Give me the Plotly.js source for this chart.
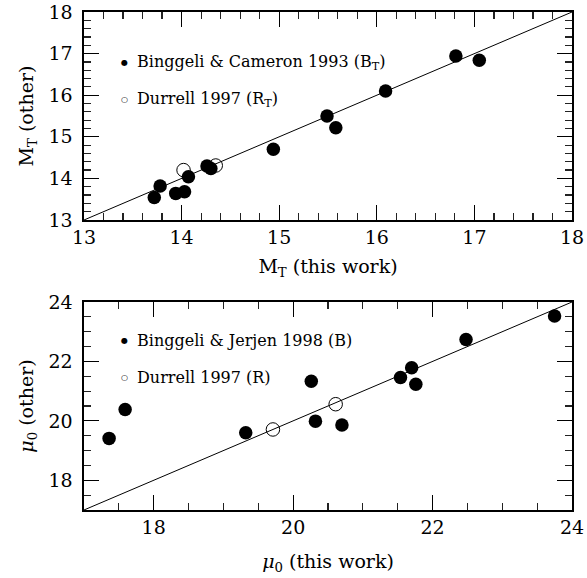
<!DOCTYPE html>
<html>
<head>
<meta charset="utf-8">
<script src="https://cdn.plot.ly/plotly-3.0.1.min.js"></script>
<style>html,body{margin:0;padding:0;background:#fff;}#chart{width:587px;height:578px;}</style>
</head>
<body>
<div id="chart"></div>
<script>
// Top panel: M_T comparison
var topFilledX = [13.72, 13.78, 13.94, 14.03, 14.07, 14.26, 14.30, 14.94, 15.49, 15.58, 16.09, 16.81, 17.05];
var topFilledY = [13.54, 13.82, 13.64, 13.68, 14.04, 14.30, 14.24, 14.70, 15.50, 15.22, 16.10, 16.94, 16.84];
var topOpenX = [14.02, 14.35];
var topOpenY = [14.20, 14.31];
var topLine = [13, 18];

// Bottom panel: mu_0 comparison
var botFilledX = [17.36, 17.59, 19.32, 20.26, 20.32, 20.70, 21.54, 21.70, 21.76, 22.48, 23.75];
var botFilledY = [19.41, 20.38, 19.60, 21.33, 19.99, 19.86, 21.46, 21.79, 21.23, 22.74, 23.53];
var botOpenX = [19.71, 20.61];
var botOpenY = [19.71, 20.56];
var botLine = [17, 24];

var legTop = ["Binggeli &amp; Cameron 1993 (B<sub>T</sub>)", "Durrell 1997 (R<sub>T</sub>)"];
var legBot = ["Binggeli &amp; Jerjen 1998 (B)", "Durrell 1997 (R)"];

var FONT = "DejaVu Serif, serif";
var msize = 13.5;

var traces = [
  {x: topLine, y: topLine, xaxis: 'x', yaxis: 'y', mode: 'lines', line: {color: 'black', width: 1}, hoverinfo: 'skip'},
  {x: topFilledX, y: topFilledY, xaxis: 'x', yaxis: 'y', mode: 'markers', marker: {size: msize, color: 'black'}},
  {x: topOpenX, y: topOpenY, xaxis: 'x', yaxis: 'y', mode: 'markers', marker: {size: msize, color: 'rgba(0,0,0,0)', line: {color: 'black', width: 1}}},
  {x: botLine, y: botLine, xaxis: 'x2', yaxis: 'y2', mode: 'lines', line: {color: 'black', width: 1}, hoverinfo: 'skip'},
  {x: botFilledX, y: botFilledY, xaxis: 'x2', yaxis: 'y2', mode: 'markers', marker: {size: msize, color: 'black'}},
  {x: botOpenX, y: botOpenY, xaxis: 'x2', yaxis: 'y2', mode: 'markers', marker: {size: msize, color: 'rgba(0,0,0,0)', line: {color: 'black', width: 1}}}
];

function ax(range, dtick, mdtick, domain, anchor, title, standoff) {
  return {
    range: range, domain: domain, anchor: anchor,
    dtick: dtick, tick0: 0,
    ticks: 'inside', ticklen: 15, tickwidth: 1.2, tickcolor: 'black',
    minor: {dtick: mdtick, ticks: 'inside', ticklen: 7, tickwidth: 1.2, tickcolor: '#222', showgrid: false},
    showline: true, linecolor: 'black', linewidth: 1.6, mirror: 'allticks',
    showgrid: false, zeroline: false,
    tickfont: {family: FONT, size: 19, color: 'black'},
    title: {text: title, font: {family: FONT, size: 19, color: 'black'}, standoff: standoff},
    fixedrange: true
  };
}

var anns = [];
function legend(xref, yref, labels, y1, y2) {
  var ys = [y1, y2];
  var syms = ['●', '○'];
  for (var i = 0; i < 2; i++) {
    anns.push({xref: xref, yref: yref, x: 0.082, y: ys[i], text: syms[i], showarrow: false,
      xanchor: 'center', yanchor: 'middle', font: {family: 'DejaVu Sans', size: 8, color: 'black'}});
    anns.push({xref: xref, yref: yref, x: 0.104, y: ys[i], text: labels[i], showarrow: false,
      xanchor: 'left', yanchor: 'middle', font: {family: FONT, size: 16, color: 'black'}});
  }
}
legend('x domain', 'y domain', legTop, 0.755, 0.577);
legend('x2 domain', 'y2 domain', legBot, 0.8125, 0.635);

var layout = {
  width: 587, height: 578,
  margin: {l: 84, r: 15, t: 12, b: 68},
  paper_bgcolor: 'white', plot_bgcolor: 'white',
  showlegend: false,
  xaxis: ax([13, 18], 1, 0.2, [0, 1], 'y', 'M<sub>T</sub> (this work)', 12),
  yaxis: ax([13, 18], 1, 0.2, [0.5823, 1], 'x', 'M<sub>T</sub> (other)', 10),
  xaxis2: ax([17, 24], 2, 0.5, [0, 1], 'y2', '<i>μ</i><sub>0</sub> (this work)', 17),
  yaxis2: ax([17, 24], 2, 0.5, [0, 0.4177], 'x2', '<i>μ</i><sub>0</sub> (other)', 10),
  annotations: anns
};
layout.yaxis.ticklabelstandoff = 6;
layout.yaxis2.ticklabelstandoff = 6;

Plotly.newPlot('chart', traces, layout, {staticPlot: true, displayModeBar: false});
</script>
</body>
</html>
